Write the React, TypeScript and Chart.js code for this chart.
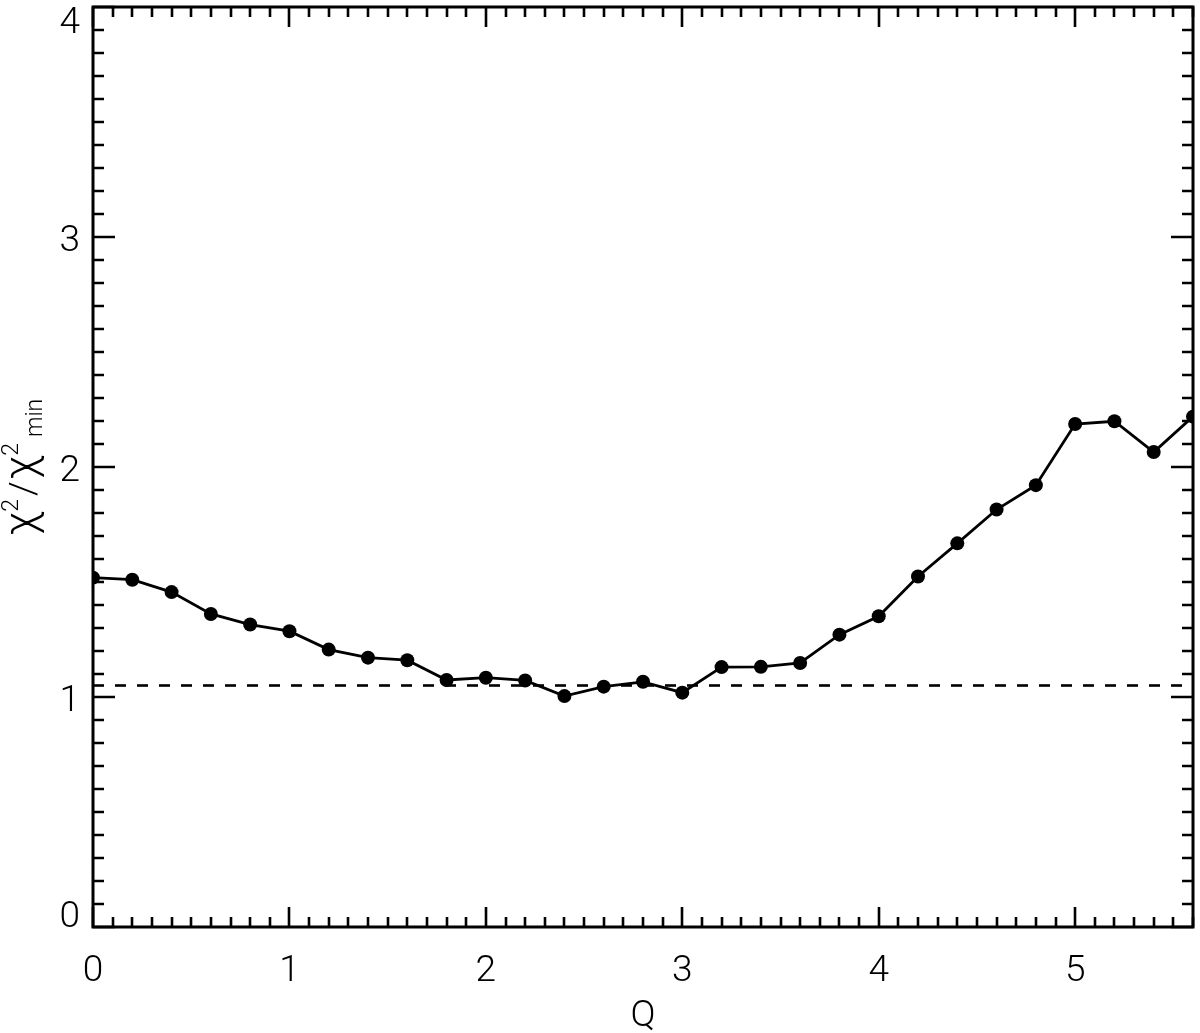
import React, { useEffect, useRef } from "react";
import { Chart, registerables } from "chart.js";

Chart.register(...registerables);

// Data
const qValues = [0, 0.2, 0.4, 0.6, 0.8, 1.0, 1.2, 1.4, 1.6, 1.8, 2.0, 2.2, 2.4, 2.6, 2.8, 3.0, 3.2, 3.4, 3.6, 3.8, 4.0, 4.2, 4.4, 4.6, 4.8, 5.0, 5.2, 5.4, 5.6];
const chiRatio = [1.519, 1.510, 1.456, 1.361, 1.315, 1.286, 1.206, 1.171, 1.160, 1.074, 1.084, 1.072, 1.004, 1.045, 1.066, 1.019, 1.130, 1.131, 1.148, 1.271, 1.351, 1.524, 1.668, 1.815, 1.921, 2.187, 2.199, 2.065, 2.219];
const refLineQ = [0, 5.6];
const refLineValue = [1.05, 1.05];
const xTickValues = [0, 1, 2, 3, 4, 5];
const xTickLabels = ["0", "1", "2", "3", "4", "5"];
const yTickValues = [0, 1, 2, 3, 4];
const yTickLabels = ["0", "1", "2", "3", "4"];
const X_MIN = 0;
const X_MAX = 5.6;
const Y_MIN = 0;
const Y_MAX = 4;
const xTitle = "Q";

const FONT_FAMILY = "Roboto, 'Open Sans', Lato, 'DejaVu Sans', sans-serif";
const FONT_WEIGHT = "300";

const idlFramePlugin = {
  id: "idlFrame",
  afterDraw(chart: any) {
    const ctx: CanvasRenderingContext2D = chart.ctx;
    const { left, right, top, bottom } = chart.chartArea;
    const xs = chart.scales.x;
    const ys = chart.scales.y;
    ctx.save();
    ctx.strokeStyle = "#000";
    ctx.fillStyle = "#000";
    ctx.lineWidth = 3;
    ctx.lineCap = "butt";
    // frame
    ctx.beginPath();
    ctx.rect(left, top, right - left, bottom - top);
    ctx.stroke();

    ctx.lineWidth = 2.6;
    // x ticks (bottom + top)
    const nx = Math.round((X_MAX - X_MIN) * 10);
    for (let i = 0; i <= nx; i++) {
      const v = X_MIN + i / 10;
      const px = Math.round(xs.getPixelForValue(v));
      const major = i % 10 === 0;
      const len = major ? 20 : 10;
      ctx.beginPath();
      ctx.moveTo(px, bottom);
      ctx.lineTo(px, bottom - len);
      ctx.moveTo(px, top);
      ctx.lineTo(px, top + len);
      ctx.stroke();
    }
    // y ticks (left + right)
    const ny = Math.round((Y_MAX - Y_MIN) * 10);
    for (let i = 0; i <= ny; i++) {
      const v = Y_MIN + i / 10;
      const py = Math.round(ys.getPixelForValue(v));
      const major = i % 10 === 0;
      const len = major ? 22 : 11;
      ctx.beginPath();
      ctx.moveTo(left, py);
      ctx.lineTo(left + len, py);
      ctx.moveTo(right, py);
      ctx.lineTo(right - len, py);
      ctx.stroke();
    }

    // tick labels
    ctx.font = `${FONT_WEIGHT} 37px ${FONT_FAMILY}`;
    ctx.textBaseline = "alphabetic";
    ctx.textAlign = "center";
    xTickValues.forEach((v, i) => {
      const px = xs.getPixelForValue(v);
      ctx.fillText(xTickLabels[i], px, bottom + 54);
    });
    ctx.textAlign = "right";
    yTickValues.forEach((v, i) => {
      const py = ys.getPixelForValue(v);
      let base = py + 14;
      if (base > bottom) base = bottom;
      if (base < top + 26) base = top + 26;
      ctx.fillText(yTickLabels[i], left - 13, base);
    });

    // x title
    ctx.textAlign = "center";
    ctx.fillText(xTitle, (left + right) / 2, 1026);

    // y title: chi^2 / chi^2_min, rotated
    const cy = (top + bottom) / 2;
    ctx.save();
    ctx.translate(35, 0);
    ctx.rotate(-Math.PI / 2);
    const chiFont = `${FONT_WEIGHT} 44px ${FONT_FAMILY}`;
    const mainFont = `${FONT_WEIGHT} 37px ${FONT_FAMILY}`;
    const smallFont = `${FONT_WEIGHT} 23px ${FONT_FAMILY}`;
    const parts: { t: string; f: string; dy: number; gap: number }[] = [
      { t: "\u03C7", f: chiFont, dy: 0, gap: 0 },
      { t: "2", f: smallFont, dy: -17, gap: 0 },
      { t: "/", f: mainFont, dy: 0, gap: 3 },
      { t: "\u03C7", f: chiFont, dy: 0, gap: 2 },
      { t: "2", f: smallFont, dy: -17, gap: 0 },
      { t: "min", f: smallFont, dy: 7, gap: 6 },
    ];
    let total = 0;
    parts.forEach((p) => {
      ctx.font = p.f;
      total += p.gap + ctx.measureText(p.t).width;
    });
    // local x = -pageY
    let lx = -cy - total / 2;
    ctx.textAlign = "left";
    parts.forEach((p) => {
      ctx.font = p.f;
      lx += p.gap;
      ctx.fillText(p.t, lx, p.dy);
      lx += ctx.measureText(p.t).width;
    });
    ctx.restore();

    ctx.restore();
  },
};

export default function App() {
  const canvasRef = useRef<HTMLCanvasElement | null>(null);

  useEffect(() => {
    if (!canvasRef.current) return;
    const chart = new Chart(canvasRef.current, {
      type: "line",
      data: {
        datasets: [
          {
            label: "chi2 ratio",
            data: qValues.map((q, i) => ({ x: q, y: chiRatio[i] })),
            borderColor: "#000",
            backgroundColor: "#000",
            borderWidth: 2.8,
            pointRadius: 7,
            pointBackgroundColor: "#000",
            pointBorderWidth: 0,
            pointHoverRadius: 7,
            tension: 0,
            clip: 0,
          },
          {
            label: "reference",
            data: refLineQ.map((q, i) => ({ x: q, y: refLineValue[i] })),
            borderColor: "#000",
            borderWidth: 2.6,
            borderDash: [11, 11],
            pointRadius: 0,
            tension: 0,
            clip: 0,
          },
        ],
      },
      options: {
        animation: false,
        responsive: false,
        maintainAspectRatio: false,
        layout: { padding: { left: 93, right: 3, top: 3, bottom: 106 } },
        plugins: {
          legend: { display: false },
          tooltip: { enabled: false },
        },
        events: [],
        scales: {
          x: { type: "linear", min: X_MIN, max: X_MAX, display: false },
          y: { type: "linear", min: Y_MIN, max: Y_MAX, display: false },
        },
      },
      plugins: [idlFramePlugin],
    });
    return () => chart.destroy();
  }, []);

  return (
    <div style={{ position: "absolute", left: 0, top: 0, width: 1200, height: 1033, background: "#fff" }}>
      <canvas ref={canvasRef} width={1200} height={1033} style={{ display: "block", width: 1200, height: 1033 }} />
    </div>
  );
}
